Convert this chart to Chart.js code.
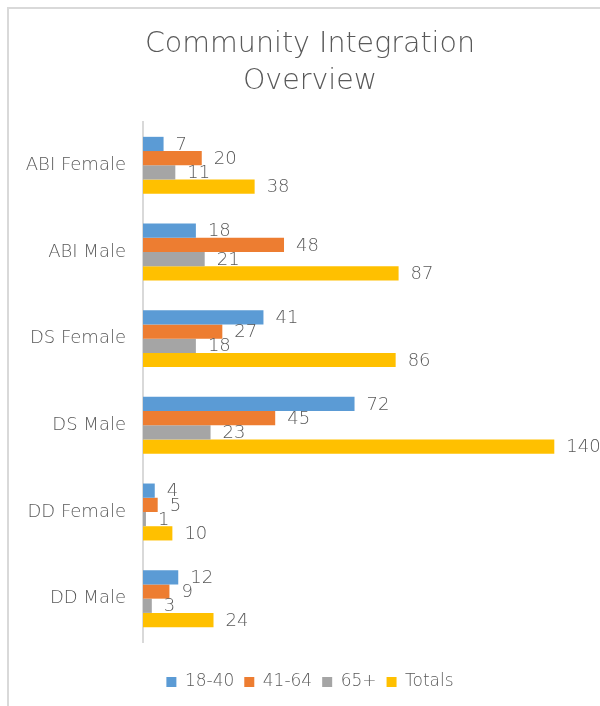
<!DOCTYPE html>
<html>
<head>
<meta charset="utf-8">
<title>Community Integration Overview</title>
<script src="https://cdn.jsdelivr.net/npm/chart.js@4/dist/chart.umd.min.js"></script>
<style>
    html, body { margin: 0; padding: 0; background: #fff; overflow: hidden; width: 600px; height: 706px; }
    .frame {
        position: absolute; left: 7px; top: 7px;
        width: 700px; height: 800px;
        border: 2px solid #d9d9d9;
    }
    #chart { position: absolute; left: 0; top: 0; }
</style>
</head>
<body>
<div class="frame"></div>
<!-- the original chart is a bit wider than the picture, its right edge is cropped -->
<canvas id="chart" width="620" height="706"></canvas>
<script>
// ==========================================
// Chart data
// ==========================================
const categories = ['ABI Female', 'ABI Male', 'DS Female', 'DS Male', 'DD Female', 'DD Male'];
const seriesNames = ['18-40', '41-64', '65+', 'Totals'];
const age18to40 = [7, 18, 41, 72, 4, 12];
const age41to64 = [20, 48, 27, 45, 5, 9];
const age65plus = [11, 21, 18, 23, 1, 3];
const totals = [38, 87, 86, 140, 10, 24];
const seriesColors = ['#5B9BD5', '#ED7D31', '#A5A5A5', '#FFC000'];

const textColor = '#595959';
const fontFamily = '"DejaVu Sans", sans-serif';
const fontWeight = 200;

// Value labels drawn to the right of each bar
const valueLabels = {
    id: 'valueLabels',
    afterDatasetsDraw(chart) {
        const ctx = chart.ctx;
        ctx.save();
        ctx.font = fontWeight + ' 18px ' + fontFamily;
        ctx.fillStyle = textColor;
        ctx.textAlign = 'left';
        ctx.textBaseline = 'middle';
        chart.data.datasets.forEach((ds, i) => {
            chart.getDatasetMeta(i).data.forEach((bar, j) => {
                ctx.fillText(String(ds.data[j]), bar.x + 12, bar.y + 1);
            });
        });
        ctx.restore();
    }
};

const seriesData = [age18to40, age41to64, age65plus, totals];

new Chart(document.getElementById('chart'), {
    type: 'bar',
    data: {
        labels: categories,
        datasets: seriesNames.map((name, i) => ({
            label: name,
            data: seriesData[i],
            backgroundColor: seriesColors[i],
            borderWidth: 0,
            categoryPercentage: 0.657,
            barPercentage: 1
        }))
    },
    options: {
        indexAxis: 'y',
        responsive: false,
        animation: false,
        layout: { padding: { left: 4, right: 4, top: 0, bottom: 5.5 } },
        scales: {
            x: {
                min: 0,
                max: 161,
                ticks: { display: false },
                grid: { display: false },
                border: { display: false },
                afterFit(scale) { scale.height = 21.5; }
            },
            y: {
                grid: { display: false, drawTicks: false },
                border: { display: true, color: '#d9d9d9', width: 2 },
                ticks: {
                    color: textColor,
                    padding: 17,
                    font: { family: fontFamily, size: 18, weight: fontWeight }
                },
                afterFit(scale) { scale.width = 139; }
            }
        },
        plugins: {
            title: {
                display: true,
                text: ['Community Integration', 'Overview'],
                color: textColor,
                font: { family: fontFamily, size: 28.5, weight: fontWeight, lineHeight: 1.28 },
                padding: { top: 26.5, bottom: 22.5 }
            },
            legend: {
                position: 'bottom',
                labels: {
                    color: textColor,
                    boxWidth: 10,
                    boxHeight: 10,
                    padding: 10,
                    font: { family: fontFamily, size: 17, weight: fontWeight }
                }
            },
            tooltip: { enabled: false }
        }
    },
    plugins: [valueLabels]
});
</script>
</body>
</html>
